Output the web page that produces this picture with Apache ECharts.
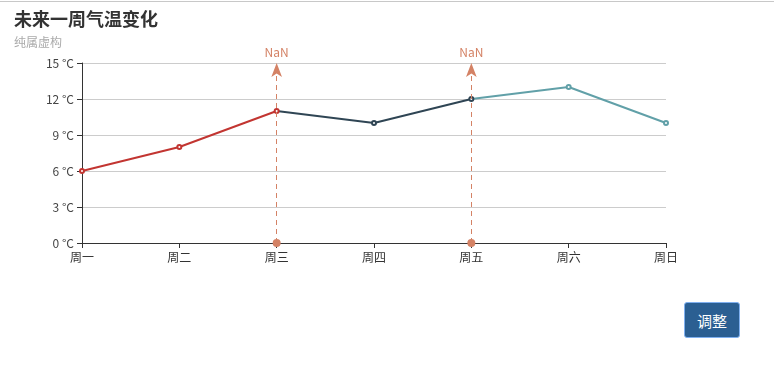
<!DOCTYPE html>
<html>
<head>
<meta charset="utf-8">
<script src="https://cdn.jsdelivr.net/npm/echarts@6/dist/echarts.min.js"></script>
<style>
html,body{margin:0;padding:0;background:#fff;}
#topline{position:absolute;left:0;top:1px;width:774px;height:1px;background:#c8c8c8;}
#main{position:absolute;left:0;top:2px;width:774px;height:368px;}
#btn{position:absolute;left:684px;top:302px;width:56px;height:36px;background:#2b5f92;color:#fff;border:1px solid #7fb0f0;border-radius:3px;font-size:15px;font-family:"Noto Sans CJK SC",sans-serif;padding:0;}
</style>
</head>
<body>
<div id="topline"></div>
<div id="main"></div>
<button id="btn">调整</button>
<script>
var categories = ['周一','周二','周三','周四','周五','周六','周日'];
var temps = [6, 8, 11, 10, 12, 13, 10];
var markIdx = [2, 4];
var markLabel = 'NaN';

var chart = echarts.init(document.getElementById('main'));
chart.setOption({
  animation: false,
  textStyle: {fontFamily: '"Noto Sans CJK SC", sans-serif'},
  title: {
    text: '未来一周气温变化',
    subtext: '纯属虚构',
    left: 9, top: 3,
    itemGap: 8,
    textStyle: {fontSize: 18, fontWeight: 'bold', color: '#333'},
    subtextStyle: {fontSize: 12, color: '#aaa'}
  },
  grid: {left: 82, right: 108, top: 61, bottom: 127},
  xAxis: {
    type: 'category',
    boundaryGap: false,
    data: categories,
    axisLine: {lineStyle: {color: '#333'}},
    axisTick: {show: true, lineStyle: {color: '#333'}},
    axisLabel: {color: '#333', fontSize: 12, margin: 8}
  },
  yAxis: {
    type: 'value',
    min: 0, max: 15, interval: 3,
    axisLine: {show: true, lineStyle: {color: '#333'}},
    axisTick: {show: true, lineStyle: {color: '#333'}},
    axisLabel: {formatter: '{value} °C', color: '#444', fontSize: 12},
    splitLine: {lineStyle: {color: '#ccc'}}
  },
  visualMap: {
    show: false,
    dimension: 0,
    pieces: [
      {lte: 2, color: '#c23531'},
      {gt: 2, lte: 4, color: '#2f4554'},
      {gt: 4, color: '#61a0a8'}
    ]
  },
  series: [{
    type: 'line',
    data: temps,
    symbol: 'emptyCircle',
    symbolSize: 4,
    lineStyle: {width: 2},
    markLine: {
      silent: true,
      symbol: ['circle', 'arrow'],
      symbolSize: [8, 14],
      lineStyle: {color: '#d48265', type: [5, 4], width: 1},
      itemStyle: {color: '#d48265'},
      label: {show: true, position: 'end', formatter: markLabel, color: '#d48265', fontSize: 12},
      data: markIdx.map(function(i){ return {xAxis: i}; })
    }
  }]
});
</script>
</body>
</html>
